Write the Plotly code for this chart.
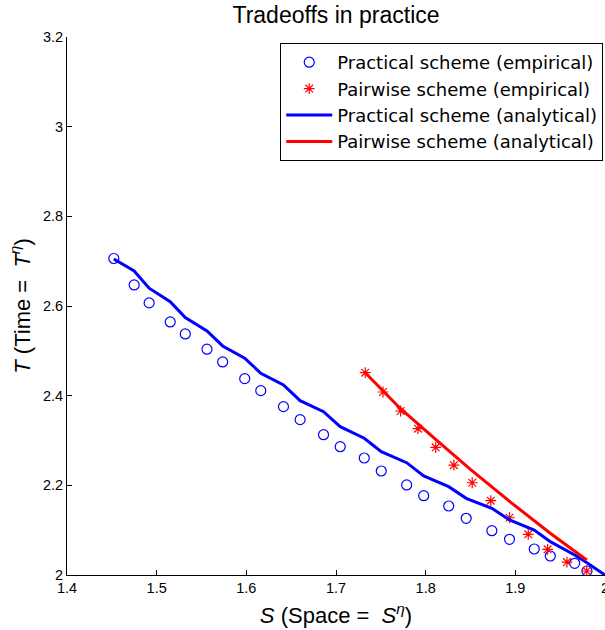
import plotly.graph_objects as go

# Practical scheme (empirical) - blue circles
prac_emp_x = [1.4522, 1.4749, 1.4916, 1.5151, 1.5319, 1.5561, 1.5736, 1.5982, 1.6161, 1.6414,
              1.6600, 1.6861, 1.7047, 1.7315, 1.7505, 1.7788, 1.7978, 1.8257, 1.8452, 1.8738,
              1.8935, 1.9211, 1.9390, 1.9662, 1.9799]
prac_emp_y = [2.7060, 2.6470, 2.6069, 2.5645, 2.5377, 2.5036, 2.4752, 2.4380, 2.4112, 2.3755,
              2.3465, 2.3130, 2.2862, 2.2610, 2.2320, 2.2008, 2.1769, 2.1539, 2.1265, 2.0988,
              2.0796, 2.0580, 2.0424, 2.0261, 2.0089]

# Pairwise scheme (empirical) - red stars
pair_emp_x = [1.7326, 1.7524, 1.7721, 1.7915, 1.8112, 1.8315, 1.8519, 1.8726, 1.8935, 1.9144,
              1.9360, 1.9576, 1.9796]
pair_emp_y = [2.4512, 2.4082, 2.3658, 2.3263, 2.2848, 2.2449, 2.2058, 2.1657, 2.1277, 2.0907,
              2.0572, 2.0289, 2.0089]

# Practical scheme (analytical) - blue line
prac_ana_x = [1.4522, 1.4749, 1.4916, 1.5151, 1.5319, 1.5561, 1.5736, 1.5982, 1.6161, 1.6414,
              1.6600, 1.6861, 1.7047, 1.7315, 1.7505, 1.7788, 1.7978, 1.8257, 1.8452, 1.8738,
              1.8935, 1.9211, 1.9390, 1.9662, 1.9799, 2.0000]
prac_ana_y = [2.7050, 2.6783, 2.6397, 2.6098, 2.5741, 2.5444, 2.5109, 2.4835, 2.4500, 2.4239,
              2.3889, 2.3643, 2.3309, 2.3050, 2.2751, 2.2505, 2.2209, 2.1970, 2.1711, 2.1488,
              2.1227, 2.1004, 2.0743, 2.0446, 2.0274, 2.0000]

# Pairwise scheme (analytical) - red line
pair_ana_x = [1.7326, 1.7717, 1.8108, 1.8499, 1.8946, 1.9393, 1.9796]
pair_ana_y = [2.4510, 2.3714, 2.3029, 2.2356, 2.1625, 2.0925, 2.0334]

x_ticks = [1.4, 1.5, 1.6, 1.7, 1.8, 1.9, 2.0]
x_tick_labels = ["1.4", "1.5", "1.6", "1.7", "1.8", "1.9", "2"]
y_ticks = [2.0, 2.2, 2.4, 2.6, 2.8, 3.0, 3.2]
y_tick_labels = ["2", "2.2", "2.4", "2.6", "2.8", "3", "3.2"]

FONT = "Liberation Sans, Arial, Helvetica, sans-serif"
LEGEND_FONT = "DejaVu Sans, Liberation Sans, Arial, sans-serif"

fig = go.Figure()
fig.add_trace(go.Scatter(
    x=prac_emp_x, y=prac_emp_y, mode="markers", name="Practical scheme (empirical)",
    marker=dict(symbol="circle-open", size=10, color="#0000FF", line=dict(width=1.2, color="#0000FF")),
))
fig.add_trace(go.Scatter(
    x=pair_emp_x, y=pair_emp_y, mode="markers", name="Pairwise scheme (empirical)",
    marker=dict(symbol="asterisk-open", size=9, color="#FF0000", line=dict(width=1.2, color="#FF0000")),
))
fig.add_trace(go.Scatter(
    x=prac_ana_x, y=prac_ana_y, mode="lines", name="Practical scheme (analytical)",
    line=dict(color="#0000FF", width=3),
))
fig.add_trace(go.Scatter(
    x=pair_ana_x, y=pair_ana_y, mode="lines", name="Pairwise scheme (analytical)",
    line=dict(color="#FF0000", width=3),
))

fig.update_layout(
    width=605, height=630,
    margin=dict(l=67, r=0, t=37, b=55, autoexpand=False),
    paper_bgcolor="white", plot_bgcolor="white",
    font=dict(family=FONT, color="black", size=14),
    title=dict(text="Tradeoffs in practice", x=(67 + 605) / 2 / 605, xanchor="center",
               y=1 - 15 / 630, yanchor="middle", font=dict(size=23, family=FONT, color="black")),
    showlegend=True,
    legend=dict(
        x=603 / 605, xref="paper", xanchor="right",
        y=(575 - 43) / 538, yanchor="top",
        bgcolor="white", bordercolor="black", borderwidth=1,
        font=dict(size=18, family=LEGEND_FONT, color="black"),
        itemwidth=46, tracegroupgap=0,
    ),
    xaxis=dict(
        range=[1.4, 2.0], tickvals=x_ticks, ticktext=x_tick_labels,
        ticks="inside", ticklen=5, tickcolor="black", showline=True, linecolor="black", linewidth=1,
        showgrid=False, zeroline=False, mirror=False, ticklabeloverflow="allow",
        tickfont=dict(size=14.5, family=FONT, color="black"),
        title=dict(text="<i>S</i> (Space =\u00a0 <i>S</i><sup><i>η</i></sup>)", font=dict(size=22, family=FONT), standoff=12),
    ),
    yaxis=dict(
        range=[2.0, 3.2], tickvals=y_ticks, ticktext=y_tick_labels,
        ticks="inside", ticklen=5, tickcolor="black", showline=True, linecolor="black", linewidth=1,
        showgrid=False, zeroline=False, mirror=False, ticklabeloverflow="allow",
        tickfont=dict(size=14.5, family=FONT, color="black"),
        title=dict(text="<i>T</i> (Time =\u00a0 <i>T</i><sup><i>η</i></sup>)", font=dict(size=22, family=FONT), standoff=6),
    ),
)

fig.write_html("out.html", config={"displayModeBar": False},
               post_script="document.body.style.margin='0';document.body.style.overflow='hidden';")
